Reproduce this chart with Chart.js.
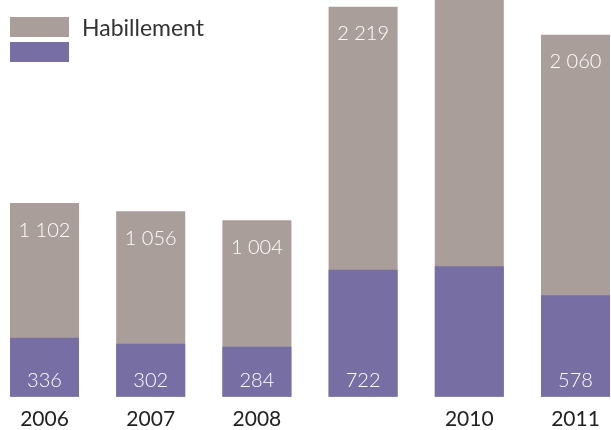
<!DOCTYPE html>
<html>
<head>
<meta charset="utf-8">
<script src="https://cdn.jsdelivr.net/npm/chart.js@4"></script>
<style>
    html, body { margin: 0; padding: 0; background: #fff; }
    #wrap { position: relative; width: 611px; height: 430px; }
    #legend { position: absolute; left: 10px; top: 17px; font-family: 'Lato', sans-serif; font-size: 23px; color: #333; }
    .leg-row { display: flex; align-items: center; height: 20px; margin-bottom: 5px; }
    .leg-box { width: 59px; height: 20px; margin-right: 13px; }
</style>
</head>
<body>
<div id="wrap">
    <canvas id="bar-chart" width="611" height="430"></canvas>
    <div id="legend"></div>
</div>
<script>
// categories (2009 has no label in the original)
var years = ["2006", "2007", "2008", "", "2010", "2011"];
// totals (grey bar) and the purple part
var totalValues = [1102, 1056, 1004, 2219, 2400, 2060];
var purpleValues = [336, 302, 284, 722, 743, 578];
// labels printed in the bars
var totalLabels = ["1 102", "1 056", "1 004", "2 219", "", "2 060"];
var purpleLabels = ["336", "302", "284", "722", "", "578"];

var seriesNames = ["Habillement", ""];
var seriesColors = ["#aa9e9a", "#776ea3"];

// white value labels inside the bars
const barLabels = {
    id: "barLabels",
    afterDatasetsDraw: function(chart) {
        var ctx = chart.ctx;
        ctx.save();
        ctx.fillStyle = "#fff";
        ctx.textAlign = "center";
        ctx.textBaseline = "middle";
        ctx.font = "300 20px Lato";
        chart.getDatasetMeta(0).data.forEach(function(bar, i) {
            if (totalLabels[i] && bar.y > 0) {
                ctx.fillText(totalLabels[i], bar.x, bar.y + 27);
            }
        });
        chart.getDatasetMeta(1).data.forEach(function(bar, i) {
            if (purpleLabels[i]) {
                ctx.fillText(purpleLabels[i], bar.x, bar.base - 16);
            }
        });
        ctx.restore();
    }
};

var Target = document.getElementById("bar-chart");
var Charts = new Chart(Target, {
    type: "bar",
    data: {
        labels: years,
        datasets: [{
            label: seriesNames[0],
            data: totalValues,
            backgroundColor: seriesColors[0],
            order: 1,
            clip: false
        }, {
            label: seriesNames[1],
            data: purpleValues,
            backgroundColor: seriesColors[1],
            order: 0,
            clip: false
        }]
    },
    options: {
        responsive: false,
        animation: false,
        maintainAspectRatio: false,
        categoryPercentage: 1,
        barPercentage: 0.65,
        layout: {
            padding: { left: 44.5, right: 35.5, top: 0, bottom: -12 }
        },
        plugins: {
            legend: { display: false },
            tooltip: { enabled: false }
        },
        scales: {
            x: {
                stacked: true,
                offset: false,
                grid: { display: false, drawTicks: false, tickLength: 0 },
                border: { display: false },
                ticks: {
                    color: "#222",
                    padding: 10,
                    maxRotation: 0,
                    autoSkip: false,
                    font: { family: "Lato", size: 21 }
                }
            },
            y: {
                stacked: false,
                display: false,
                min: 0,
                max: 2257
            }
        }
    },
    plugins: [barLabels]
});

// html legend
var legend = document.getElementById("legend");
seriesNames.forEach(function(name, i) {
    var row = document.createElement("div");
    row.className = "leg-row";
    var box = document.createElement("div");
    box.className = "leg-box";
    box.style.background = seriesColors[i];
    row.appendChild(box);
    var txt = document.createElement("span");
    txt.textContent = name;
    row.appendChild(txt);
    legend.appendChild(row);
});
</script>
</body>
</html>
